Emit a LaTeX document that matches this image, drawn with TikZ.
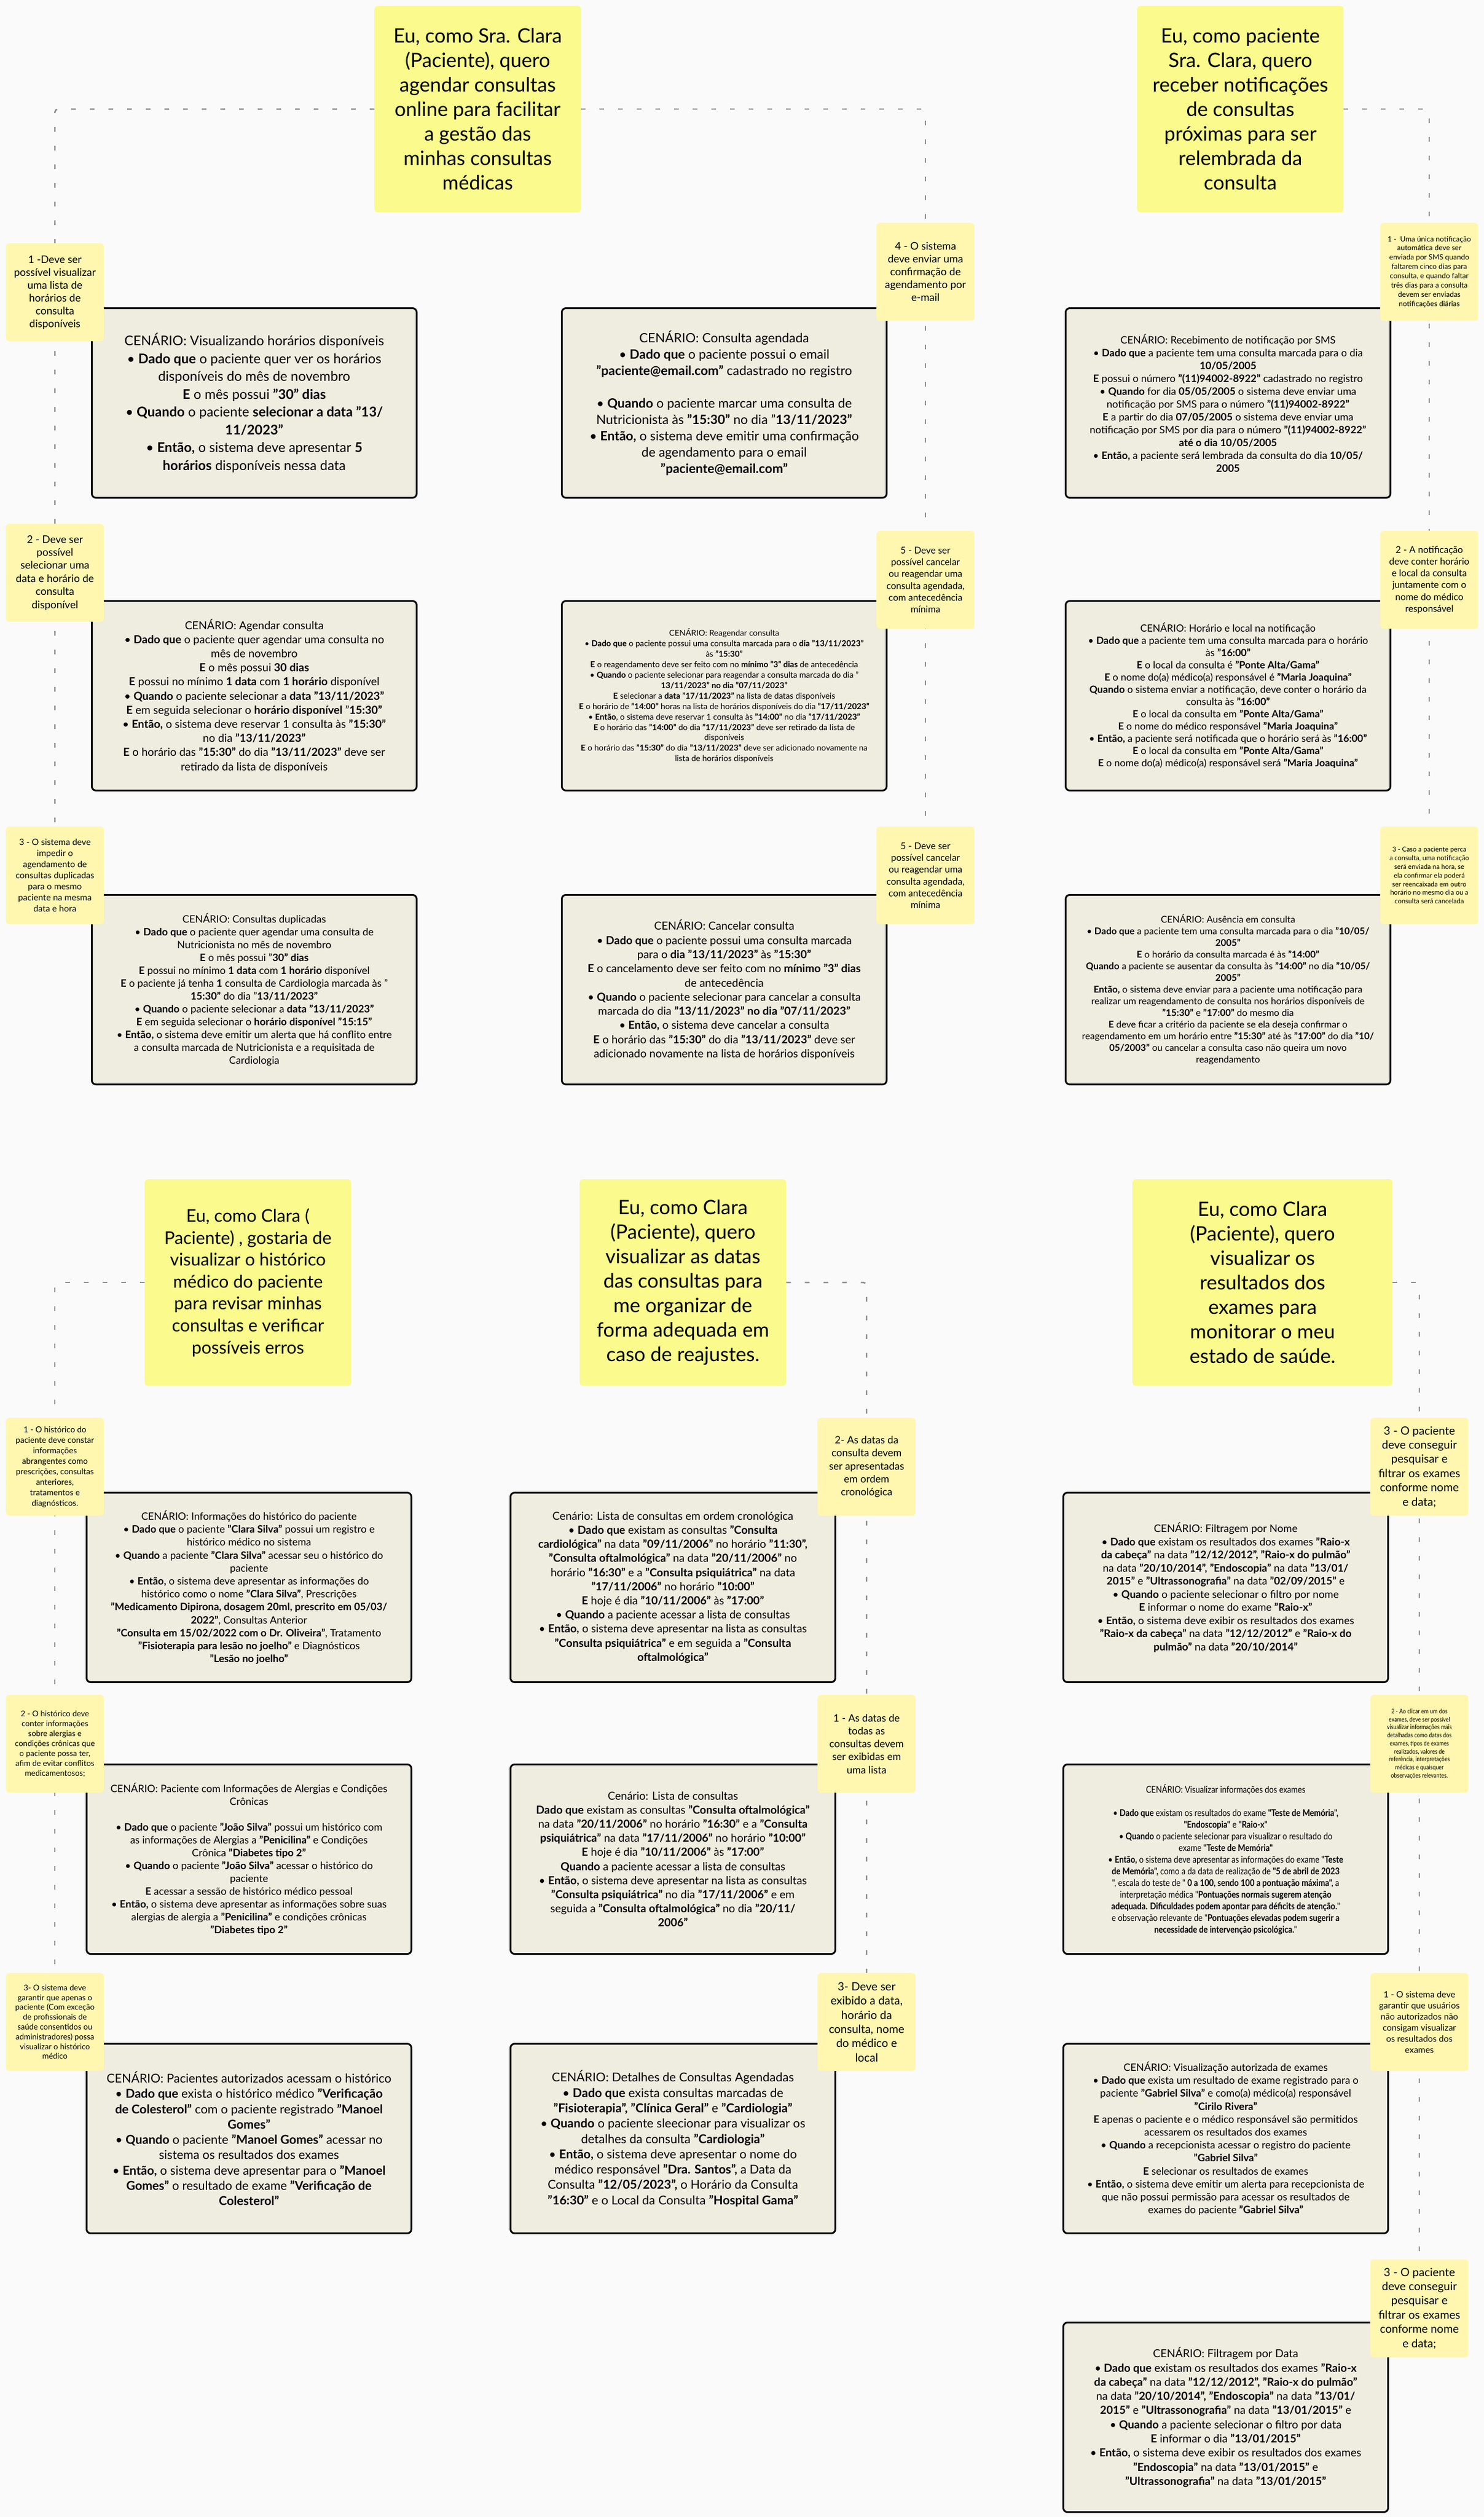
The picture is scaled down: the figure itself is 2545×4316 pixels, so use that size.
\documentclass[tikz,border=0pt]{standalone}
\usepackage{fontspec}
\setmainfont{Lato}
\newfontfamily\narrowfont[FakeStretch=0.85]{Lato}
\usetikzlibrary{backgrounds}
\definecolor{pagebg}{RGB}{250,250,250}
\definecolor{storyyellow}{RGB}{250,251,140}
\definecolor{noteyellow}{RGB}{255,247,176}
\definecolor{cardbeige}{RGB}{239,236,224}
\definecolor{linkgray}{RGB}{140,140,140}
\newcommand{\setfs}[2]{\fontsize{#1}{#2}\selectfont}

\begin{document}
\begin{tikzpicture}[
        x=1pt, y=-1pt,
        story/.style={fill=storyyellow, rounded corners=5pt, align=center, inner sep=0pt,
            anchor=north west, minimum width=354pt, minimum height=354pt, font=\setfs{34}{42}},
        note/.style={fill=noteyellow, rounded corners=6pt, align=center, inner sep=0pt,
            anchor=north west, minimum width=168pt, minimum height=168pt},
        card/.style={draw=black, line width=3pt, fill=cardbeige, rounded corners=7pt, align=center,
            inner sep=0pt, anchor=north west, minimum width=557pt, minimum height=325pt},
        link/.style={draw=linkgray, line width=2.5pt, dash pattern=on 8pt off 24pt, rounded corners=5pt},
    ]
    \useasboundingbox (0,0) rectangle (2545,4316);

    \node[story] (hAgendar) at (642,10) {Eu, como Sra. Clara\\(Paciente), quero\\agendar consultas\\online para facilitar\\a gestão das\\minhas consultas\\médicas};
    \node[story] (hNotificar) at (1950,10) {Eu, como paciente\\Sra. Clara, quero\\receber notificações\\de consultas\\próximas para ser\\relembrada da\\consulta};
    \node[story, font=\setfs{30}{37.6}] (hHistorico) at (248,2022) {Eu, como Clara (\\Paciente) , gostaria de\\visualizar o histórico\\médico do paciente\\para revisar minhas\\consultas e verificar\\possíveis erros};
    \node[story] (hDatas) at (994,2022) {Eu, como Clara\\(Paciente), quero\\visualizar as datas\\das consultas para\\me organizar de\\forma adequada em\\caso de reajustes.};
    \node[story, minimum width=446pt] (hExames) at (1942,2022) {Eu, como Clara\\(Paciente), quero\\visualizar os\\resultados dos\\exames para\\monitorar o meu\\estado de saúde.};

    \node[card, font=\setfs{23}{30.5}] (cAgendar1) at (156,527) {CENÁRIO: Visualizando horários disponíveis\\
        • \textbf{Dado que} o paciente quer ver os horários\\
        disponíveis do mês de novembro\\
        \textbf{E} o mês possui \textbf{"30" dias}\\
        • \textbf{Quando} o paciente \textbf{selecionar a data "13/}\\
        \textbf{11/2023"}\\
        • \textbf{Então,} o sistema deve apresentar \textbf{5}\\
        \textbf{horários} disponíveis nessa data};
    \node[card, font=\setfs{19}{24.2}] (cAgendar2) at (156,1029) {CENÁRIO: Agendar consulta\\
        • \textbf{Dado que} o paciente quer agendar uma consulta no\\
        mês de novembro\\
        \textbf{E} o mês possui \textbf{30 dias}\\
        \textbf{E} possui no mínimo \textbf{1 data} com \textbf{1 horário} disponível\\
        • \textbf{Quando} o paciente selecionar a \textbf{data "13/11/2023"}\\
        \textbf{E} em seguida selecionar o \textbf{horário disponível} "\textbf{15:30"}\\
        • \textbf{Então,} o sistema deve reservar 1 consulta às \textbf{"15:30"}\\
        no dia \textbf{"13/11/2023"}\\
        \textbf{E} o horário das \textbf{"15:30"} do dia \textbf{"13/11/2023"} deve ser\\
        retirado da lista de disponíveis};
    \node[card, font=\setfs{17.5}{22}] (cAgendar3) at (156,1533) {CENÁRIO: Consultas duplicadas\\
        • \textbf{Dado que} o paciente quer agendar uma consulta de\\
        Nutricionista no mês de novembro\\
        \textbf{E} o mês possui "\textbf{30" dias}\\
        \textbf{E} possui no mínimo \textbf{1 data} com \textbf{1 horário} disponível\\
        \textbf{E} o paciente já tenha \textbf{1} consulta de Cardiologia marcada às "\\
        \textbf{15:30"} do dia "\textbf{13/11/2023"}\\
        • \textbf{Quando} o paciente selecionar a \textbf{data "13/11/2023"}\\
        \textbf{E} em seguida selecionar o \textbf{horário disponível "15:15"}\\
        • \textbf{Então,} o sistema deve emitir um alerta que há conflito entre\\
        a consulta marcada de Nutricionista e a requisitada de\\
        Cardiologia};
    \node[card, font=\setfs{22}{28}] (cAgendar4) at (962,527) {CENÁRIO: Consulta agendada\\
        • \textbf{Dado que} o paciente possui o email\\
        \textbf{"paciente@email.com"} cadastrado no registro\\[28pt]
        • \textbf{Quando} o paciente marcar uma consulta de\\
        Nutricionista às \textbf{"15:30"} no dia "\textbf{13/11/2023"}\\
        • \textbf{Então,} o sistema deve emitir uma confirmação\\
        de agendamento para o email\\
        \textbf{"paciente@email.com"}};
    \node[card, font=\setfs{14}{17.9}] (cAgendar5) at (962,1029) {CENÁRIO: Reagendar consulta\\
        • \textbf{Dado que} o paciente possui uma consulta marcada para o \textbf{dia "13/11/2023"}\\
        às \textbf{"15:30"}\\
        \textbf{E} o reagendamento deve ser feito com no \textbf{mínimo "3" dias} de antecedência\\
        • \textbf{Quando} o paciente selecionar para reagendar a consulta marcada do dia "\\
        \textbf{13/11/2023" no dia "07/11/2023"}\\
        \textbf{E} selecionar a \textbf{data "17/11/2023"} na lista de datas disponíveis\\
        \textbf{E} o horário de \textbf{"14:00"} horas na lista de horários disponíveis do dia \textbf{"17/11/2023"}\\
        • \textbf{Então}, o sistema deve reservar 1 consulta às \textbf{"14:00"} no dia \textbf{"17/11/2023"}\\
        \textbf{E} o horário das \textbf{"14:00"} do dia \textbf{"17/11/2023"} deve ser retirado da lista de\\
        disponíveis\\
        \textbf{E} o horário das \textbf{"15:30"} do dia \textbf{"13/11/2023"} deve ser adicionado novamente na\\
        lista de horários disponíveis};
    \node[card, font=\setfs{19}{24.3}] (cAgendar6) at (962,1533) {CENÁRIO: Cancelar consulta\\
        • \textbf{Dado que} o paciente possui uma consulta marcada\\
        para o \textbf{dia "13/11/2023"} às \textbf{"15:30"}\\
        \textbf{E} o cancelamento deve ser feito com no \textbf{mínimo "3" dias}\\
        de antecedência\\
        • \textbf{Quando} o paciente selecionar para cancelar a consulta\\
        marcada do dia \textbf{"13/11/2023" no dia "07/11/2023"}\\
        • \textbf{Então,} o sistema deve cancelar a consulta\\
        \textbf{E} o horário das \textbf{"15:30"} do dia \textbf{"13/11/2023"} deve ser\\
        adicionado novamente na lista de horários disponíveis};

    \node[card, font=\setfs{17.5}{22}] (cNotificar1) at (1826,527) {CENÁRIO: Recebimento de notificação por SMS\\
        • \textbf{Dado que} a paciente tem uma consulta marcada para o dia\\
        \textbf{10/05/2005}\\
        \textbf{E} possui o número \textbf{"(11)94002-8922"} cadastrado no registro\\
        • \textbf{Quando} for dia \textbf{05/05/2005} o sistema deve enviar uma\\
        notificação por SMS para o número \textbf{"(11)94002-8922"}\\
        \textbf{E} a partir do dia \textbf{07/05/2005} o sistema deve enviar uma\\
        notificação por SMS por dia para o número \textbf{"(11)94002-8922"}\\
        \textbf{até o dia 10/05/2005}\\
        • \textbf{Então,} a paciente será lembrada da consulta do dia \textbf{10/05/}\\
        \textbf{2005}};
    \node[card, font=\setfs{17}{21}] (cNotificar2) at (1826,1029) {CENÁRIO: Horário e local na notificação\\
        • \textbf{Dado que} a paciente tem uma consulta marcada para o horário\\
        às \textbf{"16:00"}\\
        \textbf{E} o local da consulta é \textbf{"Ponte Alta/Gama"}\\
        \textbf{E} o nome do(a) médico(a) responsável é \textbf{"Maria Joaquina"}\\
        \textbf{Quando} o sistema enviar a notificação, deve conter o horário da\\
        consulta às \textbf{"16:00"}\\
        \textbf{E} o local da consulta em \textbf{"Ponte Alta/Gama"}\\
        \textbf{E} o nome do médico responsável \textbf{"Maria Joaquina"}\\
        • \textbf{Então,} a paciente será notificada que o horário será às \textbf{"16:00"}\\
        \textbf{E} o local da consulta em \textbf{"Ponte Alta/Gama"}\\
        \textbf{E} o nome do(a) médico(a) responsável será \textbf{"Maria Joaquina"}};
    \node[card, font=\setfs{16}{20}] (cNotificar3) at (1826,1533) {CENÁRIO: Ausência em consulta\\
        • \textbf{Dado que} a paciente tem uma consulta marcada para o dia \textbf{"10/05/}\\
        \textbf{2005"}\\
        \textbf{E} o horário da consulta marcada é às \textbf{"14:00"}\\
        \textbf{Quando} a paciente se ausentar da consulta às \textbf{"14:00"} no dia \textbf{"10/05/}\\
        \textbf{2005"}\\
        \textbf{Então,} o sistema deve enviar para a paciente uma notificação para\\
        realizar um reagendamento de consulta nos horários disponíveis de\\
        \textbf{"15:30"} e \textbf{"17:00"} do mesmo dia\\
        \textbf{E} deve ficar a critério da paciente se ela deseja confirmar o\\
        reagendamento em um horário entre \textbf{"15:30"} até às \textbf{"17:00"} do dia \textbf{"10/}\\
        \textbf{05/2003"} ou cancelar a consulta caso não queira um novo\\
        reagendamento};

    \node[card, font=\setfs{17.5}{22.2}] (cHistorico1) at (147,2558) {CENÁRIO: Informações do histórico do paciente\\
        • \textbf{Dado que} o paciente \textbf{"Clara Silva"} possui um registro e\\
        histórico médico no sistema\\
        • \textbf{Quando} a paciente \textbf{"Clara Silva"} acessar seu o histórico do\\
        paciente\\
        • \textbf{Então,} o sistema deve apresentar as informações do\\
        histórico como o nome \textbf{"Clara Silva"}, Prescrições\\
        \textbf{"Medicamento Dipirona, dosagem 20ml, prescrito em 05/03/}\\
        \textbf{2022"}, Consultas Anterior\\
        \textbf{"Consulta em 15/02/2022 com o Dr. Oliveira"}, Tratamento\\
        \textbf{"Fisioterapia para lesão no joelho"} e Diagnósticos\\
        \textbf{"Lesão no joelho"}};
    \node[card, font=\setfs{17.5}{22}] (cHistorico2) at (147,3024) {CENÁRIO: Paciente com Informações de Alergias e Condições\\
        Crônicas\\[22pt]
        • \textbf{Dado que} o paciente \textbf{"João Silva"} possui um histórico com\\
        as informações de Alergias a \textbf{"Penicilina"} e Condições\\
        Crônica \textbf{"Diabetes tipo 2"}\\
        • \textbf{Quando} o paciente \textbf{"João Silva"} acessar o histórico do\\
        paciente\\
        \textbf{E} acessar a sessão de histórico médico pessoal\\
        • \textbf{Então,} o sistema deve apresentar as informações sobre suas\\
        alergias de alergia a \textbf{"Penicilina"} e condições crônicas\\
        \textbf{"Diabetes tipo 2"}};
    \node[card, font=\setfs{21}{26.3}] (cHistorico3) at (147,3503) {CENÁRIO: Pacientes autorizados acessam o histórico\\
        • \textbf{Dado que} exista o histórico médico \textbf{"Verificação}\\
        \textbf{de Colesterol"} com o paciente registrado \textbf{"Manoel}\\
        \textbf{Gomes"}\\
        • \textbf{Quando} o paciente \textbf{"Manoel Gomes"} acessar no\\
        sistema os resultados dos exames\\
        • \textbf{Então,} o sistema deve apresentar para o \textbf{"Manoel}\\
        \textbf{Gomes"} o resultado de exame \textbf{"Verificação de}\\
        \textbf{Colesterol"}};

    \node[card, font=\setfs{19}{24.2}] (cDatas1) at (874,2558) {Cenário: Lista de consultas em ordem cronológica\\
        • \textbf{Dado que} existam as consultas \textbf{"Consulta}\\
        \textbf{cardiológica"} na data \textbf{"09/11/2006"} no horário \textbf{"11:30",}\\
        \textbf{"Consulta oftalmológica"} na data \textbf{"20/11/2006"} no\\
        horário \textbf{"16:30"} e a \textbf{"Consulta psiquiátrica"} na data\\
        \textbf{"17/11/2006"} no horário \textbf{"10:00"}\\
        \textbf{E} hoje é dia \textbf{"10/11/2006"} às \textbf{"17:00"}\\
        • \textbf{Quando} a paciente acessar a lista de consultas\\
        • \textbf{Então,} o sistema deve apresentar na lista as consultas\\
        \textbf{"Consulta psiquiátrica"} e em seguida a \textbf{"Consulta}\\
        \textbf{oftalmológica"}};
    \node[card, font=\setfs{19}{24.2}] (cDatas2) at (874,3024) {Cenário: Lista de consultas\\
        \textbf{Dado que} existam as consultas \textbf{"Consulta oftalmológica"}\\
        na data \textbf{"20/11/2006"} no horário \textbf{"16:30"} e a \textbf{"Consulta}\\
        \textbf{psiquiátrica"} na data \textbf{"17/11/2006"} no horário \textbf{"10:00"}\\
        \textbf{E} hoje é dia \textbf{"10/11/2006"} às \textbf{"17:00"}\\
        \textbf{Quando} a paciente acessar a lista de consultas\\
        • \textbf{Então,} o sistema deve apresentar na lista as consultas\\
        \textbf{"Consulta psiquiátrica"} no dia \textbf{"17/11/2006"} e em\\
        seguida a \textbf{"Consulta oftalmológica"} no dia \textbf{"20/11/}\\
        \textbf{2006"}};
    \node[card, font=\setfs{21}{26.3}] (cDatas3) at (874,3503) {CENÁRIO: Detalhes de Consultas Agendadas\\
        • \textbf{Dado que} exista consultas marcadas de\\
        \textbf{"Fisioterapia", "Clínica Geral"} e \textbf{"Cardiologia"}\\
        • \textbf{Quando} o paciente sleecionar para visualizar os\\
        detalhes da consulta \textbf{"Cardiologia"}\\
        • \textbf{Então,} o sistema deve apresentar o nome do\\
        médico responsável \textbf{"Dra. Santos",} a Data da\\
        Consulta \textbf{"12/05/2023",} o Horário da Consulta\\
        \textbf{"16:30"} e o Local da Consulta \textbf{"Hospital Gama"}};

    \node[card, font=\setfs{18}{22.5}] (cExames1) at (1822,2558) {CENÁRIO: Filtragem por Nome\\
        • \textbf{Dado que} existam os resultados dos exames \textbf{"Raio-x}\\
        \textbf{da cabeça"} na data \textbf{"12/12/2012", "Raio-x do pulmão"}\\
        na data \textbf{"20/10/2014", "Endoscopia"} na data \textbf{"13/01/}\\
        \textbf{2015"} e \textbf{"Ultrassonografia"} na data \textbf{"02/09/2015"} e\\
        • \textbf{Quando} o paciente selecionar o filtro por nome\\
        \textbf{E} informar o nome do exame \textbf{"Raio-x"}\\
        • \textbf{Então,} o sistema deve exibir os resultados dos exames\\
        \textbf{"Raio-x da cabeça"} na data \textbf{"12/12/2012"} e \textbf{"Raio-x do}\\
        \textbf{pulmão"} na data \textbf{"20/10/2014"}};
    \node[card, font=\narrowfont\setfs{16}{20}] (cExames2) at (1822,3024) {CENÁRIO: Visualizar informações dos exames\\[20pt]
        • \textbf{Dado que} existam os resultados do exame \textbf{"Teste de Memória",}\\
        \textbf{"Endoscopia"} e \textbf{"Raio-x"}\\
        • \textbf{Quando} o paciente selecionar para visualizar o resultado do\\
        exame \textbf{"Teste de Memória"}\\
        • \textbf{Então,} o sistema deve apresentar as informações do exame \textbf{"Teste}\\
        \textbf{de Memória",} como a da data de realização de \textbf{"5 de abril de 2023}\\
        ", escala do teste de " \textbf{0 a 100, sendo 100 a pontuação máxima",} a\\
        interpretação médica "\textbf{Pontuações normais sugerem atenção}\\
        \textbf{adequada. Dificuldades podem apontar para déficits de atenção.}"\\
        e observação relevante de "\textbf{Pontuações elevadas podem sugerir a}\\
        \textbf{necessidade de intervenção psicológica.}"};
    \node[card, font=\setfs{17.5}{22.2}] (cExames3) at (1822,3503) {CENÁRIO: Visualização autorizada de exames\\
        • \textbf{Dado que} exista um resultado de exame registrado para o\\
        paciente \textbf{"Gabriel Silva"} e como(a) médico(a) responsável\\
        \textbf{"Cirilo Rivera"}\\
        \textbf{E} apenas o paciente e o médico responsável são permitidos\\
        acessarem os resultados dos exames\\
        • \textbf{Quando} a recepcionista acessar o registro do paciente\\
        \textbf{"Gabriel Silva"}\\
        \textbf{E} selecionar os resultados de exames\\
        • \textbf{Então,} o sistema deve emitir um alerta para recepcionista de\\
        que não possui permissão para acessar os resultados de\\
        exames do paciente \textbf{"Gabriel Silva"}};
    \node[card, font=\setfs{19}{24.3}] (cExames4) at (1822,3981) {CENÁRIO: Filtragem por Data\\
        • \textbf{Dado que} existam os resultados dos exames \textbf{"Raio-x}\\
        \textbf{da cabeça"} na data \textbf{"12/12/2012", "Raio-x do pulmão"}\\
        na data \textbf{"20/10/2014", "Endoscopia"} na data \textbf{"13/01/}\\
        \textbf{2015"} e \textbf{"Ultrassonografia"} na data \textbf{"13/01/2015"} e\\
        • \textbf{Quando} a paciente selecionar o filtro por data\\
        \textbf{E} informar o dia \textbf{"13/01/2015"}\\
        • \textbf{Então,} o sistema deve exibir os resultados dos exames\\
        \textbf{"Endoscopia"} na data \textbf{"13/01/2015"} e\\
        \textbf{"Ultrassonografia"} na data \textbf{"13/01/2015"}};

    \node[note, font=\setfs{18}{22}] (nAgendar1) at (10,417) {1 -Deve ser\\possível visualizar\\uma lista de\\horários de\\consulta\\disponíveis};
    \node[note, font=\setfs{18}{22.4}] (nAgendar2) at (10,898) {2 - Deve ser\\possível\\selecionar uma\\data e horário de\\consulta\\disponível};
    \node[note, font=\setfs{15}{19}] (nAgendar3) at (10,1417) {3 - O sistema deve\\impedir o\\agendamento de\\consultas duplicadas\\para o mesmo\\paciente na mesma\\data e hora};
    \node[note, font=\setfs{18}{22}] (nAgendar4) at (1503,382) {4 - O sistema\\deve enviar uma\\confirmação de\\agendamento por\\e-mail};
    \node[note, font=\setfs{16}{20.3}] (nAgendar5) at (1503,910) {5 - Deve ser\\possível cancelar\\ou reagendar uma\\consulta agendada,\\com antecedência\\mínima};
    \node[note, font=\setfs{16}{20.3}] (nAgendar6) at (1503,1417) {5 - Deve ser\\possível cancelar\\ou reagendar uma\\consulta agendada,\\com antecedência\\mínima};

    \node[note, font=\setfs{12.5}{15.9}] (nNotificar1) at (2367,382) {1 -\ \ Uma única notificação\\automática deve ser\\enviada por SMS quando\\faltarem cinco dias para\\consulta, e quando faltar\\três dias para a consulta\\devem ser enviadas\\notificações diárias};
    \node[note, font=\setfs{16}{20.2}] (nNotificar2) at (2367,910) {2 - A notificação\\deve conter horário\\e local da consulta\\juntamente com o\\nome do médico\\responsável};
    \node[note, font=\setfs{11.5}{14.8}] (nNotificar3) at (2367,1417) {3 - Caso a paciente perca\\a consulta, uma notificação\\será enviada na hora, se\\ela confirmar ela poderá\\ser reencaixada em outro\\horário no mesmo dia ou a\\consulta será cancelada};

    \node[note, font=\setfs{14}{18}] (nHistorico1) at (10,2431) {1 - O histórico do\\paciente deve constar\\informações\\abrangentes como\\prescrições, consultas\\anteriores,\\tratamentos e\\diagnósticos.};
    \node[note, font=\setfs{13.5}{17}] (nHistorico2) at (10,2906) {2 - O histórico deve\\conter informações\\sobre alergias e\\condições crônicas que\\o paciente possa ter,\\afim de evitar conflitos\\medicamentosos;};
    \node[note, font=\setfs{13.5}{16.8}] (nHistorico3) at (10,3383) {3- O sistema deve\\garantir que apenas o\\paciente (Com exceção\\de profissionais de\\saúde consentidos ou\\administradores) possa\\visualizar o histórico\\médico};

    \node[note, font=\setfs{17.5}{22.3}] (nDatas1) at (1402,2431) {2- As datas da\\consulta devem\\ser apresentadas\\em ordem\\cronológica};
    \node[note, font=\setfs{17.5}{22.3}] (nDatas2) at (1402,2906) {1 - As datas de\\todas as\\consultas devem\\ser exibidas em\\uma lista};
    \node[note, font=\setfs{19.5}{24.4}] (nDatas3) at (1402,3383) {3- Deve ser\\exibido a data,\\horário da\\consulta, nome\\do médico e\\local};

    \node[note, font=\setfs{19.5}{24.4}] (nExames1) at (2350,2431) {3 - O paciente\\deve conseguir\\pesquisar e\\filtrar os exames\\conforme nome\\e data;};
    \node[note, font=\narrowfont\setfs{11}{13.75}] (nExames2) at (2350,2906) {2 - Ao clicar em um dos\\exames, deve ser possível\\visualizar informações mais\\detalhadas como datas dos\\exames, tipos de exames\\realizados, valores de\\referência, interpretações\\médicas e quaisquer\\observações relevantes.};
    \node[note, font=\setfs{15}{19}] (nExames3) at (2350,3383) {1 - O sistema deve\\garantir que usuários\\não autorizados não\\consigam visualizar\\os resultados dos\\exames};
    \node[note, font=\setfs{19.5}{24.4}] (nExames4) at (2350,3874) {3 - O paciente\\deve conseguir\\pesquisar e\\filtrar os exames\\conforme nome\\e data;};

    \begin{pgfonlayer}{background}
        \fill[pagebg] (0,0) rectangle (2545,4316);
        \draw[link] (hAgendar.west) -| (nAgendar3.north);
        \draw[link] (hAgendar.east) -| (nAgendar6.north);
        \draw[link] (hNotificar.east) -| (nNotificar3.north);
        \draw[link] (hHistorico.west) -| (nHistorico3.north);
        \draw[link] (hDatas.east) -| (nDatas3.north);
        \draw[link] (hExames.east) -| (nExames4.north);
    \end{pgfonlayer}
\end{tikzpicture}
\end{document}
